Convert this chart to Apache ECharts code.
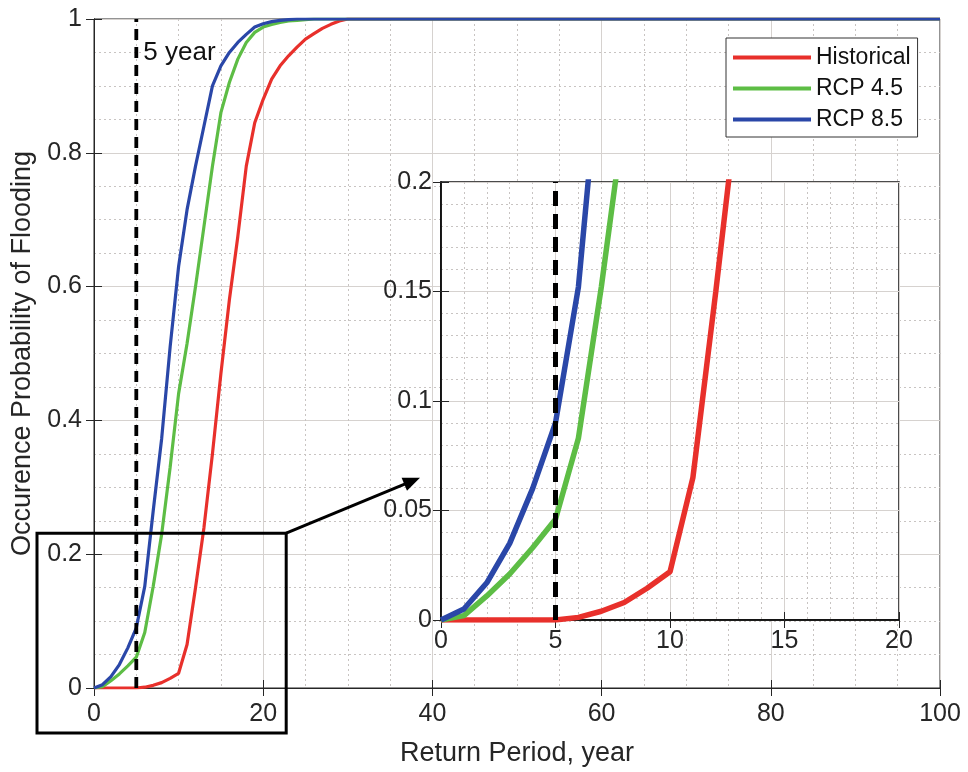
<!DOCTYPE html>
<html><head><meta charset="utf-8">
<script src="https://cdn.jsdelivr.net/npm/echarts@6/dist/echarts.min.js"></script>
<style>html,body{margin:0;padding:0;background:#fff}#c{width:968px;height:772px}</style>
</head><body><div id="c"></div>
<script>
// ---------- data ----------
const years = [0,1,2,3,4,5,6,7,8,9,10,11,12,13,14,15,16,17,18,19,20,21,22,23,24,25,26,27,28,29,30,100];
const historical = [0,0,0,0,0,0,0.0012,0.004,0.008,0.0145,0.022,0.065,0.15,0.24,0.35,0.47,0.58,0.675,0.78,0.845,0.88,0.91,0.93,0.945,0.958,0.97,0.978,0.986,0.992,0.997,1,1];
const rcp45 = [0,0.002,0.011,0.021,0.033,0.046,0.083,0.152,0.23,0.33,0.44,0.515,0.6,0.69,0.78,0.86,0.905,0.94,0.965,0.98,0.988,0.992,0.995,0.997,0.998,0.999,1,1,1,1,1,1];
const rcp85 = [0,0.005,0.017,0.035,0.06,0.09,0.152,0.265,0.373,0.51,0.63,0.715,0.78,0.84,0.9,0.93,0.95,0.965,0.977,0.988,0.993,0.996,0.998,0.999,1,1,1,1,1,1,1,1];
const seriesNames = ['Historical', 'RCP 4.5', 'RCP 8.5'];
const seriesValues = [historical, rcp45, rcp85];
const thresholdYear = 5;
const thresholdLabel = '5 year';
const xAxisName = 'Return Period, year';
const yAxisName = 'Occurence Probability of Flooding';
const mainXRange = [0, 100, 20];
const mainYRange = [0, 1, 0.2];
const insetXRange = [0, 20, 5];
const insetYRange = [0, 0.2, 0.05];

// ---------- styles ----------
const FONT = "'Liberation Sans', Arial, Helvetica, sans-serif";
const colors = ['#e8302b', '#5dbd45', '#2a47a8'];
const axisColor = '#262626';
const majorGrid = '#d6d2cf';
const minorGrid = '#c8c4c2';

function axisCommon(extra) {
  return Object.assign({
    type: 'value',
    axisLine: { show: true, lineStyle: { color: axisColor, width: 1 } },
    axisTick: { show: true, inside: true, length: 8, lineStyle: { color: axisColor } },
    axisLabel: { color: axisColor, fontSize: 25, fontFamily: FONT },
    splitLine: { show: false },
    minorSplitLine: { show: false }
  }, extra);
}

const chart = echarts.init(document.getElementById('c'), null, { renderer: 'canvas' });

const xAxes = [
  axisCommon({ gridIndex: 0, position: 'bottom', min: mainXRange[0], max: mainXRange[1], interval: mainXRange[2],
    axisLabel: { color: axisColor, fontSize: 25, fontFamily: FONT, margin: 14 },
    splitLine: { show: true, lineStyle: { color: majorGrid, width: 1 } },
    minorTick: { show: false, splitNumber: 4 },
    minorSplitLine: { show: true, lineStyle: { color: minorGrid, width: 1, type: [2, 3] } },
    name: xAxisName, nameLocation: 'middle', nameGap: 52,
    nameTextStyle: { color: axisColor, fontSize: 27, fontFamily: FONT }
  }),
  axisCommon({ gridIndex: 0, position: 'top', min: mainXRange[0], max: mainXRange[1], interval: mainXRange[2],
    axisLabel: { show: false } }),
  axisCommon({ gridIndex: 1, position: 'bottom', min: insetXRange[0], max: insetXRange[1], interval: insetXRange[2], z: 3,
    axisLine: { show: true, lineStyle: { color: '#111', width: 1.5 } },
    axisLabel: { color: axisColor, fontSize: 25, fontFamily: FONT, margin: 9 },
    splitLine: { show: true, lineStyle: { color: majorGrid, width: 1 } },
    minorTick: { show: false, splitNumber: 5 },
    minorSplitLine: { show: true, lineStyle: { color: minorGrid, width: 1, type: [2, 3] } }
  }),
  axisCommon({ gridIndex: 1, position: 'top', min: insetXRange[0], max: insetXRange[1], interval: insetXRange[2], z: 3,
    axisLine: { show: true, lineStyle: { color: '#111', width: 1.5 } },
    axisLabel: { show: false } })
];

const yAxes = [
  axisCommon({ gridIndex: 0, position: 'left', min: mainYRange[0], max: mainYRange[1], interval: mainYRange[2],
    axisLabel: { color: axisColor, fontSize: 25, fontFamily: FONT, margin: 12 },
    splitLine: { show: true, lineStyle: { color: majorGrid, width: 1 } },
    minorTick: { show: false, splitNumber: 4 },
    minorSplitLine: { show: true, lineStyle: { color: minorGrid, width: 1, type: [2, 3] } },
    name: yAxisName, nameLocation: 'middle', nameGap: 54, nameRotate: 90,
    nameTextStyle: { color: axisColor, fontSize: 27, fontFamily: FONT }
  }),
  axisCommon({ gridIndex: 0, position: 'right', min: mainYRange[0], max: mainYRange[1], interval: mainYRange[2],
    axisLabel: { show: false } }),
  axisCommon({ gridIndex: 1, position: 'left', min: insetYRange[0], max: insetYRange[1], interval: insetYRange[2], z: 3,
    axisLine: { show: true, lineStyle: { color: '#111', width: 1.5 } },
    axisLabel: { color: axisColor, fontSize: 25, fontFamily: FONT, margin: 9 },
    splitLine: { show: true, lineStyle: { color: majorGrid, width: 1 } },
    minorTick: { show: false, splitNumber: 5 },
    minorSplitLine: { show: true, lineStyle: { color: minorGrid, width: 1, type: [2, 3] } }
  }),
  axisCommon({ gridIndex: 1, position: 'right', min: insetYRange[0], max: insetYRange[1], interval: insetYRange[2], z: 3,
    axisLine: { show: true, lineStyle: { color: '#111', width: 1.5 } },
    axisLabel: { show: false } })
];

const series = [];
seriesNames.forEach((name, k) => {
  const pts = years.map((x, i) => [x, seriesValues[k][i]]);
  series.push({ name, type: 'line', xAxisIndex: 0, yAxisIndex: 0, data: pts, showSymbol: false, symbol: 'none',
    color: colors[k], lineStyle: { width: 3.2, color: colors[k] }, z: 3, animation: false });
  series.push({ name, type: 'line', xAxisIndex: 2, yAxisIndex: 2, data: pts, showSymbol: false, symbol: 'none',
    color: colors[k], lineStyle: { width: 5.5, color: colors[k] }, z: 6, clip: true, animation: false });
});
series.push({ type: 'line', xAxisIndex: 0, yAxisIndex: 0, silent: true, symbol: 'none', animation: false, z: 4,
  data: [[thresholdYear, mainYRange[0]], [thresholdYear, mainYRange[1]]],
  lineStyle: { color: '#000', width: 3.8, type: [11, 7] } });
series.push({ type: 'line', xAxisIndex: 2, yAxisIndex: 2, silent: true, symbol: 'none', animation: false, z: 7,
  data: [[thresholdYear, insetYRange[0]], [thresholdYear, insetYRange[1]]],
  lineStyle: { color: '#000', width: 5, type: [15, 8] } });

chart.setOption({
  animation: false,
  backgroundColor: '#fff',
  textStyle: { fontFamily: FONT },
  grid: [
    { left: 94, top: 19, width: 846, height: 671, show: true, borderColor: axisColor, borderWidth: 1, backgroundColor: 'transparent', z: 0 },
    { left: 441, top: 182, width: 458, height: 438, show: true, borderColor: '#111', borderWidth: 1.5, backgroundColor: '#fff', z: 2 }
  ],
  xAxis: xAxes,
  yAxis: yAxes,
  legend: {
    data: seriesNames, left: 726, top: 38, orient: 'vertical', icon: 'rect', itemWidth: 78, itemHeight: 4,
    itemGap: 8, padding: [8, 7, 6, 7], borderColor: '#333', borderWidth: 1, backgroundColor: '#fff', z: 10,
    textStyle: { color: '#111', fontSize: 23, fontFamily: FONT, lineHeight: 23 }
  },
  series
});

// ---------- annotations (derived from axis scales) ----------
const p0 = chart.convertToPixel({ xAxisIndex: 0, yAxisIndex: 0 }, [insetXRange[0], insetYRange[0]]);
const p1 = chart.convertToPixel({ xAxisIndex: 0, yAxisIndex: 0 }, [insetXRange[1], insetYRange[1]]);
const rx0 = p0[0] - 57, rx1 = p1[0] + 23, ry0 = p1[1] - 21, ry1 = p0[1] + 45;
const insetAnchor = chart.convertToPixel({ xAxisIndex: 2, yAxisIndex: 2 }, [insetXRange[0], 0.065]);
const tip = [insetAnchor[0] - 21, insetAnchor[1]];
const start = [rx1, ry0];
const dx = tip[0] - start[0], dy = tip[1] - start[1];
const L = Math.hypot(dx, dy), ux = dx / L, uy = dy / L, nx = -uy, ny = ux;
const headLen = 17, headW = 7;
const base = [tip[0] - ux * headLen, tip[1] - uy * headLen];
const th = chart.convertToPixel({ xAxisIndex: 0, yAxisIndex: 0 }, [thresholdYear, mainYRange[1]]);

chart.setOption({
  graphic: [
    { type: 'rect', z: 20, shape: { x: rx0, y: ry0, width: rx1 - rx0, height: ry1 - ry0 },
      style: { fill: 'none', stroke: '#000', lineWidth: 3 } },
    { type: 'line', z: 20, shape: { x1: start[0], y1: start[1], x2: base[0] + ux * 3, y2: base[1] + uy * 3 },
      style: { stroke: '#000', lineWidth: 3 } },
    { type: 'polygon', z: 20, shape: { points: [tip, [base[0] + nx * headW, base[1] + ny * headW], [base[0] - nx * headW, base[1] - ny * headW]] },
      style: { fill: '#000' } },
    { type: 'text', z: 20, x: th[0] + 7, y: th[1] + 34,
      style: { text: thresholdLabel, fill: '#111', font: '26px ' + FONT, verticalAlign: 'middle', backgroundColor: '#fff' } }
  ]
});
</script>
</body></html>
